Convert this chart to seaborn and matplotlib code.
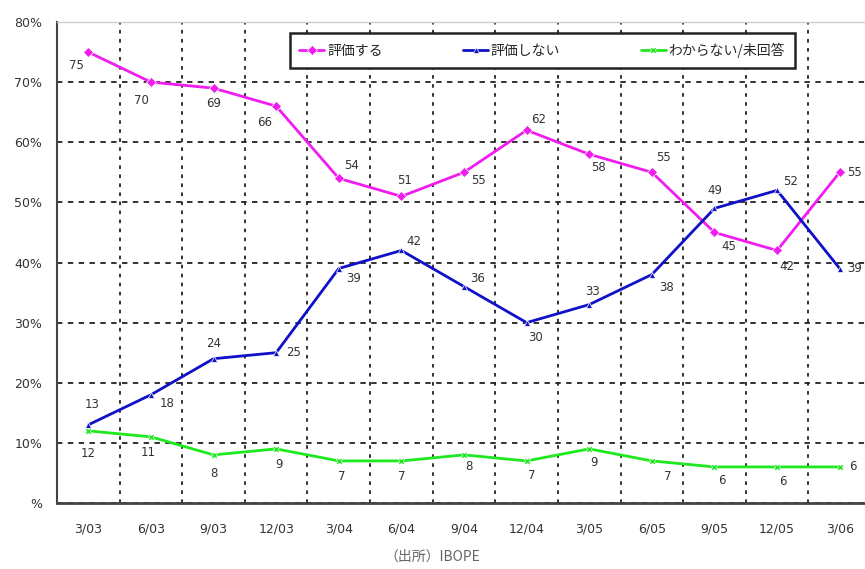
import numpy as np
import pandas as pd
import seaborn as sns
import matplotlib.pyplot as plt
from matplotlib.ticker import FixedLocator

sns.set_theme(style="white")
plt.rcParams['font.family'] = ['Noto Sans CJK JP', 'DejaVu Sans']

quarters = ['3/03', '6/03', '9/03', '12/03', '3/04', '6/04', '9/04',
            '12/04', '3/05', '6/05', '9/05', '12/05', '3/06']
approve = [75, 70, 69, 66, 54, 51, 55, 62, 58, 55, 45, 42, 55]
disapprove = [13, 18, 24, 25, 39, 42, 36, 30, 33, 38, 49, 52, 39]
unknown = [12, 11, 8, 9, 7, 7, 8, 7, 9, 7, 6, 6, 6]
series_names = ['評価する', '評価しない', 'わからない/未回答']
y_ticklabels = ['%', '10%', '20%', '30%', '40%', '50%', '60%', '70%', '80%']

palette = {
    '評価する': '#f01cf0',
    '評価しない': '#1010c8',
    'わからない/未回答': '#1ee81e',
}
markers = {'評価する': 'D', '評価しない': '^', 'わからない/未回答': 'X'}

# label offsets (pixels) for each value label
off_approve = [(-12, -13), (-9, -18), (0, -15), (-12, -16), (13, 13), (3, 16), (14, -8),
               (12, 11), (9, -13), (12, 15), (14, -14), (10, -16), (15, 0)]
off_disapprove = [(4, 20), (16, -9), (0, 15), (17, 0), (15, -10), (12, 9), (14, 8),
                  (9, -15), (3, 13), (15, -13), (0, 18), (13, 9), (15, 0)]
off_unknown = [(0, -23), (-3, -16), (0, -19), (3, -16), (3, -16), (0, -16), (5, -12),
               (5, -15), (5, -14), (16, -16), (7, -14), (6, -15), (13, 0)]

n = len(quarters)
df = pd.DataFrame({
    'x': list(range(n)) * 3,
    'value': approve + disapprove + unknown,
    'series': [series_names[0]] * n + [series_names[1]] * n + [series_names[2]] * n,
})

fig = plt.figure(figsize=(8.65, 5.69), dpi=100)
ax = fig.add_axes([57 / 865, 1 - 503 / 569, 814 / 865, 481 / 569])

sns.lineplot(data=df, x='x', y='value', hue='series', style='series',
             palette=palette, markers=markers, dashes=False, linewidth=2,
             markersize=5, markeredgewidth=0.5, ax=ax, hue_order=series_names,
             style_order=series_names)

for vals, offs in [(approve, off_approve), (disapprove, off_disapprove), (unknown, off_unknown)]:
    for i, (v, (dx, dy)) in enumerate(zip(vals, offs)):
        ax.annotate(str(v), (i, v), xytext=(dx, dy), textcoords='offset pixels',
                    ha='center', va='center', fontsize=8.5, color='#333333',
                    family=['DejaVu Sans'])

ax.set_xlim(-0.5, n - 0.5)
ax.set_ylim(0, 80)
ax.set_xticks(range(n))
ax.set_xticklabels(quarters, fontsize=9, color='#333333', family=['DejaVu Sans'])
ax.xaxis.set_minor_locator(FixedLocator(np.arange(0.5, n - 0.5, 1)))
ax.set_yticks(range(0, 81, 10))
ax.set_yticklabels(y_ticklabels, fontsize=9, color='#333333', family=['DejaVu Sans'])
ax.set_xlabel('')
ax.set_ylabel('')

ax.tick_params(axis='x', which='major', length=0, pad=14)
ax.tick_params(axis='x', which='minor', length=5, width=1.5, direction='inout', color='#333333')
ax.tick_params(axis='y', which='major', length=5, width=1.5, direction='inout', color='#333333', pad=8)

ax.grid(False)
ax.xaxis.grid(True, which='minor', linestyle=(0, (2, 3)), color='#222222', linewidth=1.3)
ax.yaxis.grid(True, which='major', linestyle=(0, (3, 3)), color='#222222', linewidth=1.3)
ax.set_axisbelow(True)

ax.spines['bottom'].set_color('#444444')
ax.spines['bottom'].set_linewidth(2)
ax.spines['left'].set_color('#444444')
ax.spines['left'].set_linewidth(1.5)
ax.spines['top'].set_color('#cccccc')
ax.spines['top'].set_linewidth(1)
ax.spines['right'].set_visible(False)

sns.move_legend(ax, loc='center', bbox_to_anchor=(0.596, 0.941), ncol=3, title=None,
                frameon=True, fancybox=False, fontsize=10, handlelength=1.8,
                handletextpad=0.2, columnspacing=5.8, borderpad=0.7)
leg = ax.get_legend()
leg.get_frame().set_edgecolor('#222222')
leg.get_frame().set_linewidth(1.8)
leg.get_frame().set_alpha(1)

fig.text(432 / 865, 1 - 557 / 569, '（出所）IBOPE', ha='center', va='center',
         fontsize=10, color='#666666')

fig.savefig('out.png', dpi=100)
